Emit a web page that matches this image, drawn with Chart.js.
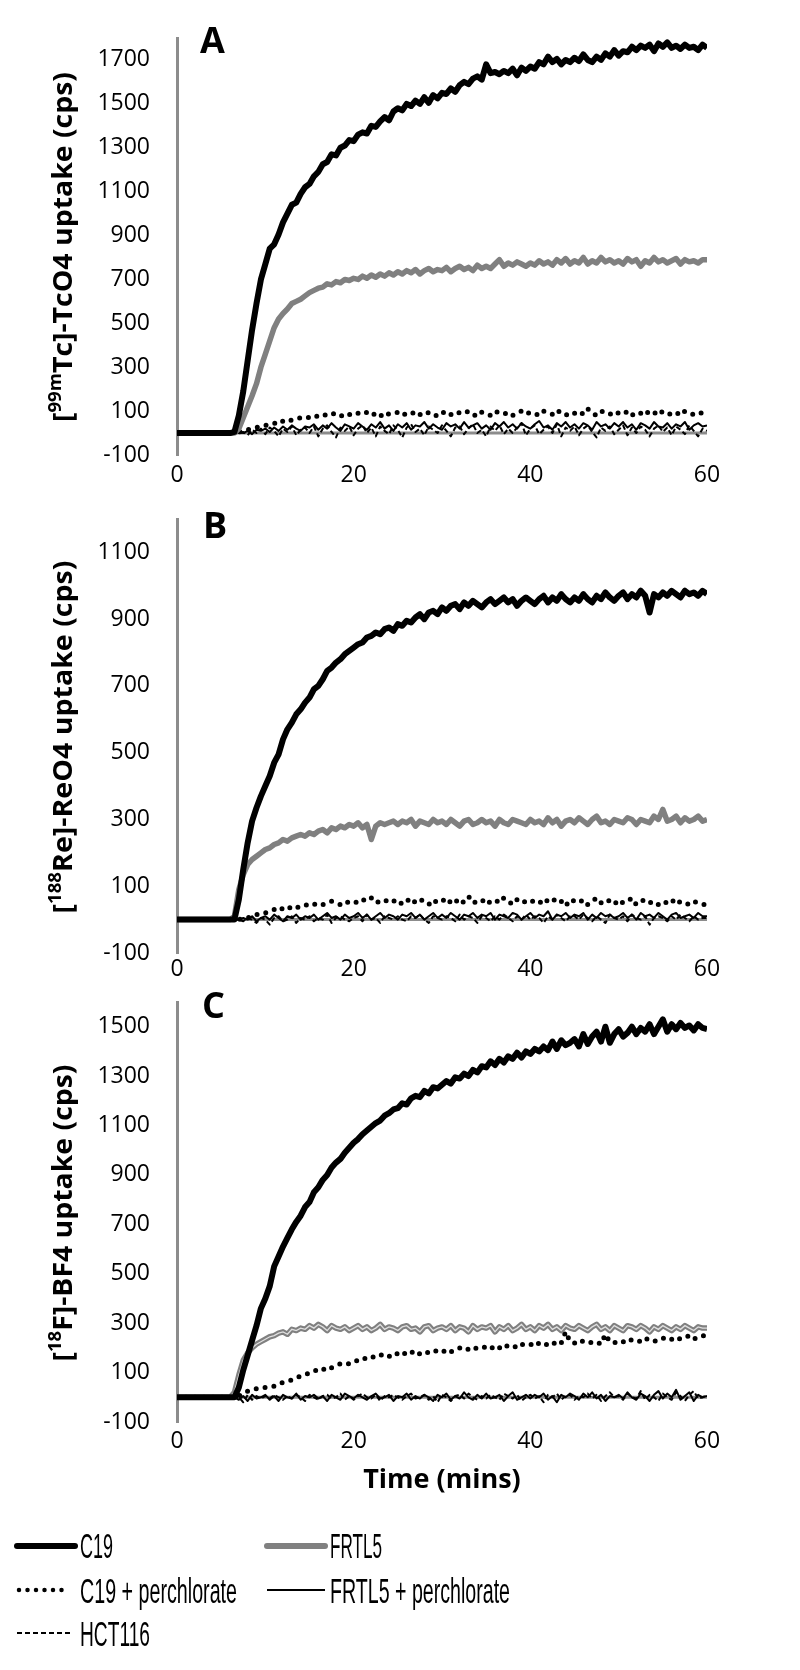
<!DOCTYPE html>
<html>
<head>
<meta charset="utf-8">
<script src="https://cdn.jsdelivr.net/npm/chart.js@4.4.1/dist/chart.umd.min.js"></script>
<style>
  body { margin: 0; background: #fff; }
  #wrap { position: relative; width: 800px; height: 1670px; overflow: hidden; }
  #wrap canvas { position: absolute; left: 0; }
  #overlay { position: absolute; left: 0; top: 0; pointer-events: none; }
</style>
</head>
<body>
<div id="wrap">
  <canvas id="chartTc" width="800" height="500" style="top:0px"></canvas>
  <canvas id="chartRe" width="800" height="480" style="top:500px"></canvas>
  <canvas id="chartBf" width="800" height="520" style="top:980px"></canvas>
  <svg id="overlay" width="800" height="1670">
    <g font-family="'Open Sans', sans-serif" font-weight="bold" fill="#000">
      <text x="200" y="53" font-size="36">A</text>
      <text x="203" y="538" font-size="36">B</text>
      <text x="202" y="1018" font-size="36">C</text>
      <text transform="translate(72,247) rotate(-90)" text-anchor="middle" font-size="26" textLength="350" lengthAdjust="spacingAndGlyphs">[<tspan font-size="17" baseline-shift="super">99m</tspan>Tc]-TcO4 uptake (cps)</text>
      <text transform="translate(72,737) rotate(-90)" text-anchor="middle" font-size="26" textLength="353" lengthAdjust="spacingAndGlyphs">[<tspan font-size="17" baseline-shift="super">188</tspan>Re]-ReO4 uptake (cps)</text>
      <text transform="translate(72,1213) rotate(-90)" text-anchor="middle" font-size="26" textLength="297" lengthAdjust="spacingAndGlyphs">[<tspan font-size="17" baseline-shift="super">18</tspan>F]-BF4 uptake (cps)</text>
      <text x="442" y="1488" text-anchor="middle" font-size="27">Time (mins)</text>
    </g>
    <g font-family="'Liberation Sans', Arial, sans-serif" font-size="35" fill="#000">
      <line x1="17" y1="1546" x2="75" y2="1546" stroke="#000" stroke-width="6" stroke-linecap="round"/>
      <text x="80" y="1558" textLength="33" lengthAdjust="spacingAndGlyphs">C19</text>
      <line x1="267" y1="1546" x2="325" y2="1546" stroke="#808080" stroke-width="6" stroke-linecap="round"/>
      <text x="330" y="1558" textLength="52" lengthAdjust="spacingAndGlyphs">FRTL5</text>
      <line x1="19" y1="1590" x2="70" y2="1590" stroke="#000" stroke-width="4.5" stroke-dasharray="0 8.5" stroke-linecap="round"/>
      <text x="80" y="1603" textLength="157" lengthAdjust="spacingAndGlyphs">C19 + perchlorate</text>
      <line x1="267" y1="1590" x2="325" y2="1590" stroke="#000" stroke-width="2"/>
      <text x="330" y="1603" textLength="180" lengthAdjust="spacingAndGlyphs">FRTL5 + perchlorate</text>
      <line x1="17" y1="1633" x2="72" y2="1633" stroke="#000" stroke-width="2" stroke-dasharray="5 3"/>
      <text x="80" y="1646" textLength="70" lengthAdjust="spacingAndGlyphs">HCT116</text>
    </g>
  </svg>
</div>
<script>
// sampling times (mins), one reading every 30 s
const times = Array.from({ length: 121 }, (_, i) => i / 2);
const xTicks = [0, 20, 40, 60];

// A: [99mTc]-TcO4
const yTicksTc = [-100, 100, 300, 500, 700, 900, 1100, 1300, 1500, 1700];
const tcC19 = [
  0, 0, 0, 0, 0, 0, 0, 0, 0, 0,
  0, 0, 0, 5, 80, 190, 330, 470, 590, 700,
  770, 840, 860, 905, 960, 1000, 1040, 1050, 1090, 1120,
  1135, 1170, 1190, 1225, 1235, 1270, 1265, 1300, 1310, 1335,
  1330, 1360, 1370, 1365, 1400, 1395, 1420, 1440, 1425, 1465,
  1480, 1470, 1500, 1490, 1515, 1500, 1530, 1505, 1540, 1525,
  1550, 1545, 1570, 1555, 1585, 1600, 1590, 1615, 1625, 1610,
  1680, 1640, 1645, 1635, 1650, 1640, 1660, 1630, 1665, 1650,
  1670, 1660, 1690, 1680, 1715, 1690, 1705, 1680, 1700, 1690,
  1710, 1695, 1725, 1700, 1690, 1715, 1700, 1730, 1715, 1745,
  1720, 1740, 1735, 1760, 1745, 1765, 1755, 1770, 1740, 1775,
  1760, 1780, 1755, 1765, 1750, 1770, 1755, 1760, 1745, 1770,
  1755,
];
const tcFrtl5 = [
  0, 0, 0, 0, 0, 0, 0, 0, 0, 0,
  0, 0, 0, 0, 20, 70, 120, 170, 225, 300,
  360, 420, 480, 520, 545, 565, 590, 600, 610, 625,
  640, 650, 660, 665, 680, 675, 690, 685, 700, 695,
  705, 700, 715, 705, 720, 710, 725, 715, 730, 720,
  735, 725, 740, 730, 745, 725, 740, 750, 735, 745,
  740, 755, 735, 750, 760, 745, 755, 740, 765, 750,
  760, 750, 770, 790, 760, 775, 765, 780, 770, 760,
  775, 765, 785, 770, 780, 765, 790, 775, 795, 770,
  785, 775, 800, 770, 785, 775, 800, 780, 790, 775,
  785, 770, 795, 780, 790, 760, 785, 775, 800, 780,
  790, 775, 785, 795, 770, 790, 780, 785, 775, 790,
  790,
];
const tcC19Perc = [
  0, 0, 0, 0, 0, 0, 0, 0, 0, 0,
  0, 0, 0, 0, 5, 10, 15, 20, 25, 30,
  35, 40, 45, 40, 55, 50, 60, 65, 70, 75,
  70, 80, 75, 85, 80, 90, 85, 75, 90, 85,
  80, 90, 85, 95, 80, 90, 75, 95, 85, 90,
  95, 80, 90, 85, 100, 85, 80, 95, 90, 75,
  90, 100, 85, 80, 95, 90, 100, 85, 75, 95,
  90, 80, 100, 90, 85, 95, 80, 90, 100, 85,
  95, 90, 80, 100, 90, 85, 105, 90, 80, 95,
  90, 100, 85, 110, 90, 80, 100, 95, 85, 100,
  90, 85, 100, 80, 95, 90, 105, 85, 95, 80,
  100, 90, 85, 95, 80, 100, 90, 85, 95, 90,
  90,
];
const tcFrtl5Perc = [
  0, 0, 0, 0, 0, 0, 0, 0, 0, 0,
  0, 0, 0, 0, 5, 0, 10, -5, 15, 10,
  20, 5, 25, 10, 30, 15, 35, 20, 10, 30,
  25, 40, 15, 35, 20, 45, 25, 10, 40, 30,
  20, 45, 30, 15, 40, 25, 50, 20, 35, 10,
  40, 25, 45, 15, 35, 30, 50, 20, 40, 25,
  15, 45, 30, 40, 20, 50, 25, 35, 45, 20,
  35, 15, 45, 30, 50, 25, 40, 20, 45, 30,
  20, 40, 55, 25, 35, 15, 45, 30, 50, 25,
  40, 20, 45, 35, 15, 50, 30, 40, 20, 45,
  30, 50, 25, 40, 15, 45, 35, 20, 50, 30,
  25, 45, 20, 40, 30, 50, 15, 35, 45, 30,
  35,
];
const tcHct116 = [
  0, 0, 0, 0, 0, 0, 0, 0, 0, 0,
  0, 0, 0, 0, 0, 5, -10, 15, 0, 20,
  -5, 25, 10, -15, 20, 5, 30, -10, 15, 25,
  0, 30, -15, 20, 35, 5, -20, 25, 10, 30,
  -10, 20, 35, 0, 25, -15, 30, 10, -5, 35,
  15, -20, 25, 40, 5, 20, -10, 30, 15, 0,
  35, 10, -15, 25, 30, -5, 20, 40, 0, 15,
  -15, 30, 10, 35, -5, 20, 0, 25, 45, -10,
  20, 35, -5, 15, 30, 0, 40, -15, 25, 10,
  30, -10, 20, 35, 5, -20, 25, 10, 30, -5,
  15, 35, -10, 25, 0, 30, 15, -15, 20, 35,
  5, 25, -10, 30, 15, -5, 35, 10, -15, 20,
  10,
];

// B: [188Re]-ReO4
const yTicksRe = [-100, 100, 300, 500, 700, 900, 1100];
const reC19 = [
  0, 0, 0, 0, 0, 0, 0, 0, 0, 0,
  0, 0, 0, 0, 60, 150, 230, 295, 335, 370,
  400, 430, 470, 495, 540, 570, 590, 615, 630, 650,
  665, 690, 700, 720, 745, 755, 770, 780, 795, 805,
  815, 825, 830, 845, 850, 860, 855, 870, 875, 865,
  885, 880, 895, 890, 905, 915, 900, 920, 925, 915,
  935, 925, 940, 945, 930, 950, 940, 955, 945, 935,
  950, 960, 945, 955, 965, 950, 960, 940, 955, 965,
  955, 945, 960, 970, 950, 965, 955, 975, 960, 950,
  965, 955, 975, 960, 950, 970, 960, 980, 965, 955,
  970, 980, 960, 975, 965, 985, 970, 920, 975, 965,
  980, 970, 985, 975, 965, 985, 975, 980, 970, 985,
  975,
];
const reFrtl5 = [
  0, 0, 0, 0, 0, 0, 0, 0, 0, 0,
  0, 0, 0, 10, 90, 135, 165, 180, 190, 200,
  210, 215, 225, 230, 240, 235, 245, 250, 255, 250,
  260, 255, 265, 270, 260, 275, 270, 280, 275, 285,
  280, 290, 275, 285, 240, 280, 290, 285, 290, 295,
  285, 295, 290, 300, 280, 295, 290, 285, 300, 290,
  295, 285, 300, 290, 280, 295, 300, 285, 290, 300,
  290, 295, 280, 300, 290, 285, 300, 295, 290, 285,
  300, 290, 295, 285, 305, 290, 300, 280, 295, 300,
  290, 305, 295, 285, 300, 310, 290, 295, 285, 300,
  295, 290, 305, 300, 285, 300, 295, 290, 310, 300,
  330, 295, 300, 310, 290, 305, 295, 300, 310, 295,
  300,
];
const reC19Perc = [
  0, 0, 0, 0, 0, 0, 0, 0, 0, 0,
  0, 0, 0, 0, 0, 5, 5, 10, 15, 20,
  20, 25, 30, 25, 35, 30, 40, 35, 40, 45,
  40, 45, 50, 45, 50, 55, 50, 45, 55, 50,
  55, 50, 60, 55, 65, 50, 55, 60, 50, 55,
  60, 45, 55, 65, 50, 60, 55, 45, 60, 50,
  55, 65, 50, 60, 45, 55, 70, 50, 55, 60,
  45, 55, 60, 50, 65, 55, 45, 60, 50, 55,
  60, 50, 55, 45, 60, 65, 50, 55, 40, 60,
  55, 50, 60, 45, 55, 65, 50, 60, 55, 45,
  60, 50, 55, 65, 45, 55, 60, 50, 55, 45,
  55, 50, 60, 45, 55, 50, 45, 55, 50, 45,
  45,
];
const reFrtl5Perc = [
  0, 0, 0, 0, 0, 0, 0, 0, 0, 0,
  0, 0, 0, 0, 0, 5, 0, 10, -5, 5,
  10, 0, 15, 5, -5, 10, 5, 15, 0, 10,
  5, 15, 0, 10, 20, 5, 10, 0, 15, 5,
  10, 20, 5, 15, 0, 10, 20, 5, 15, 10,
  0, 15, 10, 20, 5, 15, 0, 10, 20, 5,
  15, 5, 20, 10, 0, 15, 10, 20, 5, 15,
  10, 20, 0, 15, 10, 5, 20, 15, 0, 10,
  20, 5, 15, 10, 25, 0, 15, 10, 20, 5,
  15, 10, 20, 0, 15, 5, 20, 10, 15, 5,
  10, 20, 5, 15, 0, 20, 10, 15, 5, 20,
  10, 0, 15, 20, 5, 10, 15, 5, 20, 10,
  10,
];
const reHct116 = [
  0, 0, 0, 0, 0, 0, 0, 0, 0, 0,
  0, 0, 0, 0, 0, -5, 5, 0, -10, 5,
  0, -15, 5, 10, -5, 0, 10, -10, 5, 0,
  10, -5, 5, 0, 15, -10, 5, 10, 0, -5,
  5, 10, -5, 15, 0, 5, -10, 10, 5, 0,
  10, 0, -5, 10, 5, 15, 0, -10, 10, 5,
  0, 10, 5, -5, 15, 0, 10, 5, -10, 10,
  5, -5, 10, 0, 15, 5, -5, 10, 0, 15,
  0, 10, 5, -10, 10, 0, 15, 5, -5, 10,
  10, 0, 15, 5, -5, 10, 0, -10, 15, 5,
  0, 10, -5, 15, 5, 0, 10, -15, 5, 10,
  5, -5, 10, 0, 15, 5, -5, 10, 0, 5,
  5,
];

// C: [18F]-BF4
const yTicksBf = [-100, 100, 300, 500, 700, 900, 1100, 1300, 1500];
const bfC19 = [
  0, 0, 0, 0, 0, 0, 0, 0, 0, 0,
  0, 0, 0, 0, 40, 110, 170, 230, 290, 360,
  400, 450, 530, 570, 610, 645, 680, 710, 735, 770,
  790, 830, 850, 880, 900, 930, 950, 965, 990, 1010,
  1030, 1045, 1065, 1080, 1095, 1110, 1120, 1140, 1150, 1165,
  1170, 1190, 1185, 1210, 1220, 1215, 1240, 1230, 1255, 1250,
  1265, 1280, 1270, 1295, 1290, 1310, 1300, 1325, 1315, 1340,
  1335, 1360, 1345, 1370, 1355, 1380, 1370, 1395, 1375, 1400,
  1390, 1410, 1400, 1420, 1405, 1440, 1410, 1445, 1425, 1435,
  1450, 1420, 1470, 1430, 1460, 1480, 1440, 1500, 1435, 1470,
  1490, 1460, 1475, 1500, 1470, 1495, 1480, 1510, 1470, 1500,
  1530, 1480, 1510, 1490, 1515, 1495, 1505, 1485, 1510, 1495,
  1490,
];
const bfFrtl5 = [
  0, 0, 0, 0, 0, 0, 0, 0, 0, 0,
  0, 0, 0, 20, 90, 150, 180, 200, 215, 225,
  235, 245, 250, 260, 265, 255, 275, 270, 280, 275,
  290, 280, 295, 285, 270, 290, 280, 275, 285, 270,
  280, 290, 275, 285, 270, 280, 295, 275, 285, 280,
  270, 285, 290, 275, 280, 265, 285, 290, 270, 280,
  285, 275, 290, 270, 285, 280, 265, 290, 275, 285,
  280, 290, 265, 285, 275, 290, 270, 280, 295, 275,
  285, 270, 290, 280, 295, 275, 285, 270, 290, 280,
  275, 290, 280, 270, 285, 295, 275, 285, 270, 290,
  280, 270, 290, 285, 275, 290, 280, 265, 285, 275,
  290, 280, 270, 285, 275, 290, 280, 270, 285, 280,
  280,
];
const bfC19Perc = [
  0, 0, 0, 0, 0, 0, 0, 0, 0, 0,
  0, 0, 0, 0, 5, 15, 25, 30, 35, 35,
  40, 45, 45, 55, 60, 65, 70, 80, 85, 90,
  100, 105, 115, 110, 125, 120, 130, 135, 140, 135,
  145, 150, 160, 155, 165, 160, 170, 175, 165, 180,
  175, 185, 170, 180, 190, 175, 185, 180, 190, 185,
  180, 195, 185, 190, 200, 190, 195, 205, 195, 200,
  205, 195, 210, 200, 215, 205, 210, 200, 215, 210,
  215, 205, 220, 210, 215, 225, 210, 220, 265, 225,
  220, 215, 230, 225, 220, 225, 215, 255, 225, 220,
  230, 225, 220, 235, 230, 225, 240, 230, 225, 235,
  240, 230, 235, 245, 235, 240, 250, 235, 245, 250,
  245,
];
const bfFrtl5Perc = [
  0, 0, 0, 0, 0, 0, 0, 0, 0, 0,
  0, 0, 0, 0, -10, 5, -15, 10, -5, 0,
  10, -10, 5, -15, 10, 0, -5, 15, -10, 5,
  0, 10, -5, 5, -15, 10, 0, -10, 15, 5,
  -5, 10, 0, -10, 5, 15, -5, 0, 10, -15,
  5, 0, 15, -10, 5, -5, 10, 0, -15, 10,
  0, 15, -10, 5, -5, 20, 0, -10, 10, -5,
  15, -5, 0, 10, -15, 5, 20, -10, 0, 10,
  -5, 10, 0, 15, -10, 5, -20, 10, 0, 15,
  5, -10, 15, 0, 20, -5, 10, -15, 5, 0,
  10, -5, 20, 0, -10, 15, 5, -15, 10, 25,
  -5, 15, 0, 30, -10, 5, 20, -15, 10, 0,
  5,
];
const bfHct116 = [
  0, 0, 0, 0, 0, 0, 0, 0, 0, 0,
  0, 0, 0, 0, 0, -20, 10, -10, 5, -5,
  5, -5, 10, 0, -10, 5, -5, 10, 0, -15,
  10, 0, -10, 5, 10, -5, 0, 15, -10, 5,
  -10, 5, 15, 0, -5, 10, -15, 5, 0, 10,
  0, -10, 5, 15, -5, 0, 10, -10, 5, -20,
  10, 0, -15, 5, 10, -5, 15, 0, -10, 5,
  -5, 10, 0, -10, 15, 5, -5, 10, -15, 0,
  10, -5, 5, -20, 10, 0, 15, -10, 5, 10,
  -10, 5, 0, 15, -5, 10, -15, 5, 20, 0,
  5, -10, 15, 0, -5, 25, -10, 10, 0, -15,
  15, 0, -10, 20, 5, -15, 10, 25, -5, 0,
  10,
];

const seriesStyles = [
  { label: "C19", borderColor: "#000000", borderWidth: 6 },
  { label: "FRTL5", borderColor: "#808080", borderWidth: 5.5 },
  { label: "C19 + perchlorate", borderColor: "#000000", borderWidth: 5, borderDash: [0, 9], borderCapStyle: "round" },
  { label: "FRTL5 + perchlorate", borderColor: "#000000", borderWidth: 2 },
  { label: "HCT116", borderColor: "#000000", borderWidth: 2, borderDash: [5, 3] },
];

// horizontal axis crosses at 0
const zeroLine = {
  id: "zeroLine",
  beforeDatasetsDraw(chart) {
    const { ctx, chartArea, scales } = chart;
    const y = scales.y.getPixelForValue(0);
    ctx.save();
    ctx.strokeStyle = "#8c8c8c";
    ctx.lineWidth = 3;
    ctx.beginPath();
    ctx.moveTo(chartArea.left, y);
    ctx.lineTo(chartArea.right, y);
    ctx.stroke();
    ctx.restore();
  },
};

Chart.defaults.font.family = "'Open Sans', sans-serif";
Chart.defaults.color = "#000";

const makePanel = (id, panel) => {
  const datasets = panel.series.map((values, i) => ({
    ...seriesStyles[i],
    data: values.map((v, j) => ({ x: times[j], y: v })),
    pointRadius: 0,
    tension: 0,
    borderJoinStyle: "round",
    fill: false,
  }));

  // panel C draws FRTL5 with a light core
  if (panel.lightCore) {
    datasets.splice(1, 0, {
      label: "FRTL5 core",
      data: datasets[1].data,
      borderColor: "rgba(255, 255, 255, 0.75)",
      borderWidth: 1.3,
      pointRadius: 0,
      tension: 0,
      fill: false,
    });
  }

  new Chart(document.getElementById(id), {
    type: "line",
    data: { datasets },
    options: {
      responsive: false,
      animation: false,
      events: [],
      layout: {
        padding: { top: panel.areaTop - panel.canvasTop, right: 93, left: 0, bottom: 0 },
      },
      plugins: {
        legend: { display: false },
        tooltip: { enabled: false },
      },
      scales: {
        x: {
          type: "linear",
          min: 0,
          max: 60,
          grid: { display: false, drawTicks: false },
          border: { display: false },
          ticks: { padding: panel.xPad, font: { size: 23 }, maxRotation: 0, callback: (v) => String(v) },
          afterBuildTicks: (scale) => {
            scale.ticks = xTicks.map((v) => ({ value: v }));
          },
          afterFit: (scale) => {
            scale.height = panel.canvasTop + panel.canvasHeight - panel.areaBottom;
          },
        },
        y: {
          type: "linear",
          min: -100,
          max: panel.yMax,
          grid: { display: false, drawTicks: true, tickLength: 27 },
          border: { display: true, color: "#8c8c8c", width: 3 },
          ticks: { padding: 0, font: { size: 23 }, callback: (v) => String(v) },
          afterBuildTicks: (scale) => {
            scale.ticks = panel.yTicks.map((v) => ({ value: v }));
          },
          afterFit: (scale) => {
            scale.width = 177;
          },
        },
      },
    },
    plugins: [zeroLine],
  });
};

makePanel("chartTc", {
  canvasTop: 0, canvasHeight: 500, areaTop: 38, areaBottom: 455, xPad: 7,
  yMax: 1800, yTicks: yTicksTc,
  series: [tcC19, tcFrtl5, tcC19Perc, tcFrtl5Perc, tcHct116],
});
makePanel("chartRe", {
  canvasTop: 500, canvasHeight: 480, areaTop: 519, areaBottom: 953, xPad: 3,
  yMax: 1200, yTicks: yTicksRe,
  series: [reC19, reFrtl5, reC19Perc, reFrtl5Perc, reHct116],
});
makePanel("chartBf", {
  canvasTop: 980, canvasHeight: 520, areaTop: 1002, areaBottom: 1422, xPad: 6,
  yMax: 1600, yTicks: yTicksBf, lightCore: true,
  series: [bfC19, bfFrtl5, bfC19Perc, bfFrtl5Perc, bfHct116],
});
</script>
</body>
</html>
